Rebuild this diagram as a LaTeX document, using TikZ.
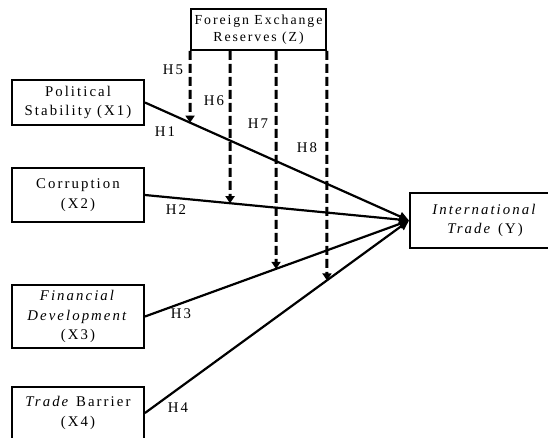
\documentclass[tikz,border=0pt]{standalone}
\usepackage{fontspec}
\setmainfont{Liberation Serif}[LetterSpace=14]
\usetikzlibrary{arrows.meta,calc}
\begin{document}
\begin{tikzpicture}[x=1pt,y=-1pt,
  box/.style={draw,line width=1.9pt,inner sep=0pt,align=center,font=\fontsize{14.8}{19.5}\selectfont},
  lab/.style={font=\fontsize{14.8}{19}\selectfont,inner sep=0pt},
  arr/.style={line width=2.2pt,-{Triangle[length=10pt,width=9pt]}},
  darr/.style={line width=3pt,dash pattern=on 9pt off 4pt,-{Triangle[length=7pt,width=9pt]}}]
\useasboundingbox (0,0) rectangle (548,437);
\clip (0,0) rectangle (548,437);
% boxes
\node[box,minimum width=135pt,minimum height=41pt,font=\fontsize{13.8}{17.5}\selectfont] (z) at (258.5,29.5) {Foreign Exchange\\Reserves (Z)};
\node[box,minimum width=132pt,minimum height=45pt] (x1) at (78,102.5) {Political\\Stability (X1)};
\node[box,minimum width=132pt,minimum height=54pt] (x2) at (78,195) {Corruption\\(X2)};
\node[box,minimum width=132pt,minimum height=63pt] (x3) at (78,316.5) {\textit{Financial}\\\textit{Development}\\(X3)};
\node[box,minimum width=132pt,minimum height=52pt] (x4) at (78,413) {\textit{Trade} Barrier\\(X4)};
\node[box,minimum width=150pt,minimum height=55pt] (y) at (485,220.5) {\textit{International}\\\textit{Trade} (Y)};
% solid arrows
\draw[arr] (x1.east) -- (y.west);
\draw[arr] (x2.east) -- (y.west);
\draw[arr] (x3.east) -- (y.west);
\draw[arr] (x4.east) -- (y.west);
% dashed moderating arrows
\coordinate (bot) at (0,430);
\coordinate (s5) at (z.south west);
\coordinate (s6) at ([xshift=40pt]z.south west);
\coordinate (s7) at ([xshift=86pt]z.south west);
\coordinate (s8) at (z.south east);
\coordinate (b5) at (s5 |- bot);
\coordinate (b6) at (s6 |- bot);
\coordinate (b7) at (s7 |- bot);
\coordinate (b8) at (s8 |- bot);
\coordinate (e5) at (intersection of s5--b5 and x1.east--y.west);
\coordinate (e6) at (intersection of s6--b6 and x2.east--y.west);
\coordinate (e7) at (intersection of s7--b7 and x3.east--y.west);
\coordinate (e8) at (intersection of s8--b8 and x4.east--y.west);
\draw[darr] (s5) -- (e5);
\draw[darr] (s6) -- (e6);
\draw[darr] (s7) -- (e7);
\draw[darr] (s8) -- (e8);
% labels
\node[lab] (h1) at (165,132) {H1};
\node[lab] (h2) at (176,210) {H2};
\node[lab] (h3) at (181,314) {H3};
\node[lab] (h4) at (178,408) {H4};
\node[lab] (h5) at (173,70) {H5};
\node[lab] (h6) at (214,101) {H6};
\node[lab] (h7) at (258,124) {H7};
\node[lab] (h8) at (307,148) {H8};
\end{tikzpicture}
\end{document}
